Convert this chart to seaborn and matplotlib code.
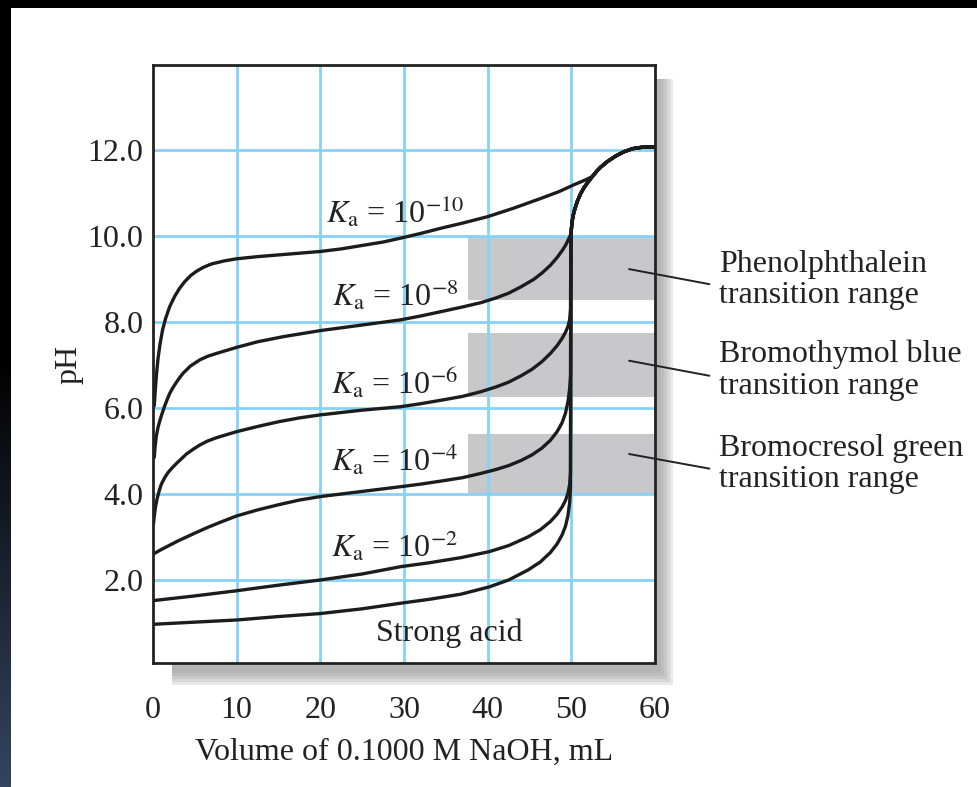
import numpy as np
import pandas as pd
import matplotlib
matplotlib.use("Agg")
import matplotlib.pyplot as plt
from matplotlib.patches import Rectangle
import seaborn as sns

# ---------------- data ----------------
tail_V = [50.1, 50.3, 50.7, 51.1, 51.5, 51.9, 52.5, 53.0, 53.5, 54.3, 55.3, 56.3, 57.3, 58.3, 59.2, 60.0]
tail_pH = [10.35, 10.55, 10.8, 10.98, 11.12, 11.23, 11.38, 11.5, 11.6, 11.73, 11.86, 11.96, 12.03, 12.06, 12.07, 12.07]

ka10_V = [0.15, 0.25, 0.4, 0.6, 0.85, 1.15, 1.5, 2.0, 2.6, 3.2, 3.8, 4.5, 5.2, 6.0, 7.0, 8.5, 10,
          12.5, 15, 17.5, 20, 22.5, 25, 27.5, 29.6, 32, 34.4, 37, 40, 43, 46.3, 48.5, 50.3, 51.5, 52.5]
ka10_pH = [6.05, 6.35, 6.75, 7.15, 7.5, 7.82, 8.08, 8.36, 8.6, 8.79, 8.94, 9.08, 9.18, 9.27, 9.35,
           9.42, 9.47, 9.52, 9.56, 9.6, 9.64, 9.7, 9.78, 9.86, 9.95, 10.06, 10.18, 10.3, 10.45,
           10.64, 10.87, 11.03, 11.19, 11.29, 11.38]

ka8_V = [0.15, 0.25, 0.4, 0.6, 0.84, 1.1, 1.4, 1.7, 2.0, 2.4, 2.8, 3.2, 3.6, 4.5, 5.6, 6.5, 7.6,
         8.8, 10, 12.5, 15.6, 20, 25, 29.6, 32, 34.4, 37, 39.2, 41, 42.5, 44, 45.5, 46.5, 47.5,
         48.3, 48.9, 49.3, 49.6, 49.8, 49.95]
ka8_pH = [4.85, 5.1, 5.35, 5.55, 5.72, 5.88, 6.05, 6.2, 6.34, 6.48, 6.6, 6.71, 6.81, 6.98, 7.12,
          7.2, 7.27, 7.34, 7.41, 7.54, 7.66, 7.8, 7.93, 8.05, 8.14, 8.24, 8.35, 8.45, 8.56, 8.67,
          8.82, 8.99, 9.14, 9.32, 9.5, 9.66, 9.78, 9.9, 9.98, 10.05]

ka6_V = [0.05, 0.15, 0.3, 0.5, 0.75, 1.0, 1.4, 1.8, 2.3, 2.8, 3.4, 4.0, 4.8, 5.6, 6.5, 7.6, 8.8,
         10, 12.5, 15, 17.5, 20, 25, 29.6, 32, 34.4, 37, 39.2, 41, 42.5, 44, 45.3, 46.5, 47.5,
         48.3, 48.9, 49.3, 49.6, 49.8, 49.9, 49.95]
ka6_pH = [3.3, 3.48, 3.7, 3.9, 4.08, 4.23, 4.38, 4.5, 4.61, 4.71, 4.82, 4.93, 5.04, 5.14, 5.23,
          5.31, 5.38, 5.45, 5.57, 5.68, 5.77, 5.84, 5.95, 6.03, 6.1, 6.18, 6.27, 6.38, 6.49, 6.6,
          6.75, 6.9, 7.08, 7.27, 7.45, 7.62, 7.76, 7.9, 8.05, 8.3, 10.05]

ka4_V = [0, 1, 2, 3, 4, 5, 6.5, 8, 10, 12.5, 15, 17.5, 20, 25, 29.6, 32, 34.4, 37, 39.2, 41,
         42.5, 44, 45.3, 46.5, 47.5, 48.3, 48.9, 49.3, 49.6, 49.8, 49.9, 49.95]
ka4_pH = [2.6, 2.71, 2.81, 2.91, 3.0, 3.09, 3.22, 3.34, 3.49, 3.63, 3.75, 3.86, 3.94, 4.06, 4.17,
          4.23, 4.3, 4.38, 4.48, 4.57, 4.66, 4.78, 4.91, 5.07, 5.25, 5.45, 5.66, 5.88, 6.15,
          6.45, 6.75, 10.05]

ka2_V = [0, 5, 10, 15, 20, 25, 29.6, 33, 36.8, 40.2, 42.5, 44.8, 46.3, 47.5, 48.3, 48.9, 49.3,
         49.6, 49.8, 49.9, 49.95]
ka2_pH = [1.52, 1.63, 1.75, 1.88, 2.0, 2.14, 2.31, 2.4, 2.52, 2.66, 2.8, 3.0, 3.17, 3.36, 3.53,
          3.7, 3.85, 4.02, 4.22, 4.5, 10.05]

strong_V = [0, 5, 10, 15, 20, 25, 29.6, 33, 36.8, 40.2, 42.5, 44.8, 46.3, 47.5, 48.3, 48.9, 49.3,
            49.6, 49.8, 49.9, 49.95]
strong_pH = [0.97, 1.02, 1.07, 1.15, 1.22, 1.33, 1.46, 1.55, 1.67, 1.84, 2.0, 2.23, 2.42, 2.64,
             2.84, 3.05, 3.25, 3.5, 3.8, 4.15, 10.05]

curve_labels = [r"$K_{\mathrm{a}}$ = 10$^{-10}$", r"$K_{\mathrm{a}}$ = 10$^{-8}$",
                r"$K_{\mathrm{a}}$ = 10$^{-6}$", r"$K_{\mathrm{a}}$ = 10$^{-4}$",
                r"$K_{\mathrm{a}}$ = 10$^{-2}$", "Strong acid"]
label_V = [28.9, 28.9, 28.9, 28.9, 28.9, 35.4]
label_pH = [10.55, 8.63, 6.58, 4.79, 2.77, 0.75]

band_names = ["Phenolphthalein\ntransition range", "Bromothymol blue\ntransition range",
              "Bromocresol green\ntransition range"]
band_low = [8.5, 6.25, 4.0]
band_high = [10.0, 7.75, 5.4]
band_start = [37.6, 37.6, 37.6]

x_ticks = [0, 10, 20, 30, 40, 50, 60]
y_ticks = [2.0, 4.0, 6.0, 8.0, 10.0, 12.0]
y_tick_labels = ["2.0", "4.0", "6.0", "8.0", "10.0", "12.0"]

# ---------------- style ----------------
sns.set_theme(style="white")
plt.rcParams["font.family"] = ["Liberation Serif", "DejaVu Serif"]
plt.rcParams["mathtext.fontset"] = "stix"

W, H = 978, 787
fig = plt.figure(figsize=(W / 100, H / 100), dpi=100, facecolor="white")

def fx(px):
    return px / W

def fy(py):
    return 1 - py / H

# dark frame (top strip and left gradient strip)
fig.patches.append(Rectangle((0, fy(8)), 1, 8 / H, transform=fig.transFigure,
                             facecolor="black", edgecolor="none", zorder=-10))
gax = fig.add_axes([0, 0, fx(11), 1], zorder=-10)
grad = np.linspace(0, 1, 256)
grad = np.clip((grad - 0.45) / 0.55, 0, 1)[:, None]
cmap = matplotlib.colors.LinearSegmentedColormap.from_list("edge", ["#000000", "#34445f"])
gax.imshow(grad, aspect="auto", cmap=cmap, extent=[0, 1, 1, 0])
gax.set_axis_off()

# drop shadow behind the axes
for k in range(5):
    x0, x1 = 172, 673 - 3 * k
    y0, y1 = 79, 685 - 3 * k
    fig.patches.append(Rectangle((fx(x0), fy(y1)), fx(x1 - x0), (y1 - y0) / H,
                                 transform=fig.transFigure, facecolor="#9a9a9a",
                                 edgecolor="none", alpha=0.22, zorder=-5))

ax = fig.add_axes([fx(153), fy(663), fx(655 - 153), (663 - 65) / H])
ax.set_facecolor("white")
ax.set_xlim(0, 60)
ax.set_ylim((666 - 663) / 43, (666 - 65) / 43)

# indicator bands
for lo, hi, st in zip(band_low, band_high, band_start):
    ax.axhspan(lo, hi, xmin=st / 60, xmax=1, facecolor="#c8c8ca", edgecolor="none", zorder=0.5)

# grid
grid_c = "#86d3f5"
for v in x_ticks[1:-1]:
    ax.axvline(v, color=grid_c, lw=2.0, zorder=1)
for p in y_ticks:
    ax.axhline(p, color=grid_c, lw=2.0, zorder=1)

# curves
curves = [
    (ka10_V + [v for v in tail_V if v > 52.5], ka10_pH + [p for v, p in zip(tail_V, tail_pH) if v > 52.5]),
    (ka8_V + tail_V, ka8_pH + tail_pH),
    (ka6_V + tail_V, ka6_pH + tail_pH),
    (ka4_V + tail_V, ka4_pH + tail_pH),
    (ka2_V + tail_V, ka2_pH + tail_pH),
    (strong_V + tail_V, strong_pH + tail_pH),
]
for vv, pp in curves:
    df = pd.DataFrame({"V": vv, "pH": pp})
    sns.lineplot(data=df, x="V", y="pH", ax=ax, estimator=None, sort=False,
                 color="#1c1c1c", lw=2.4, zorder=3)
for ln in ax.get_lines()[-len(curves):]:
    ln.set_solid_joinstyle("round")
    ln.set_solid_capstyle("round")

for txt, lv, lp in zip(curve_labels, label_V, label_pH):
    ax.text(lv, lp, txt, ha="center", va="center", fontsize=23, color="#222222", zorder=4)

# leader lines and band labels
lead_x = [56.9, 66.5]
lead_y = [(9.23, 8.88), (7.10, 6.75), (4.93, 4.59)]
text_y = [8.98, 6.88, 4.70]
for (ya, yb), ty, name in zip(lead_y, text_y, band_names):
    ax.plot(lead_x, [ya, yb], color="#222222", lw=1.4, clip_on=False, zorder=5)
    ax.text(67.7, ty, name, ha="left", va="center", fontsize=23, color="#222222",
            linespacing=1.12, clip_on=False)

# axes styling
for s in ax.spines.values():
    s.set_color("#222222")
    s.set_linewidth(2.0)
    s.set_zorder(6)
ax.set_xticks(x_ticks)
ax.set_xticklabels([str(t) for t in x_ticks])
ax.set_yticks(y_ticks)
ax.set_yticklabels(y_tick_labels)
ax.tick_params(axis="x", length=0, pad=24, labelsize=23, colors="#222222")
ax.tick_params(axis="y", length=0, pad=7, labelsize=23, colors="#222222")
ax.set_xlabel("Volume of 0.1000 M NaOH, mL", fontsize=23, color="#222222", labelpad=9)
ax.set_ylabel("pH", fontsize=23, color="#222222", labelpad=3)
ax.grid(False)

fig.savefig("out.png", dpi=100, facecolor="white")
